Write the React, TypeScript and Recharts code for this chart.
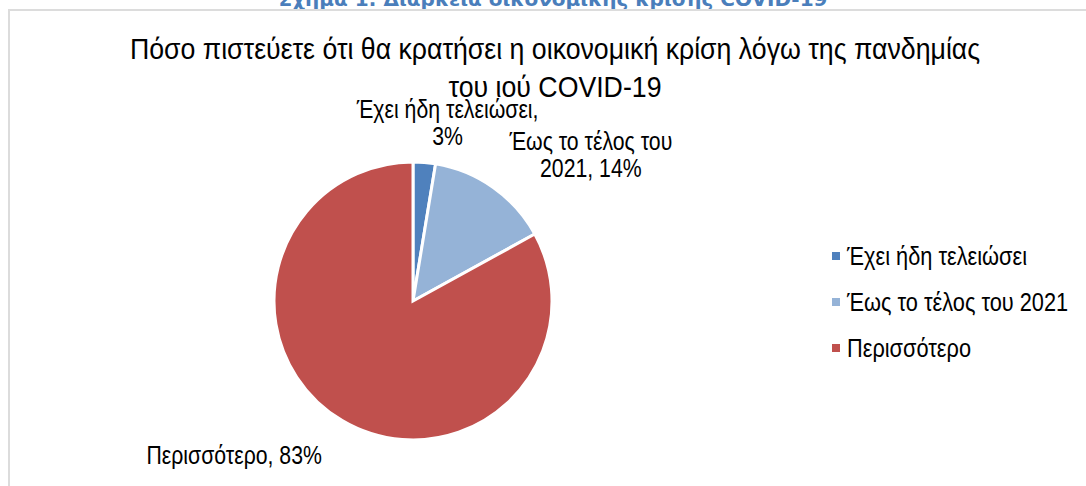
import { PieChart, Pie, Cell, Legend } from 'recharts';

const categories = ['Έχει ήδη τελειώσει', 'Έως το τέλος του 2021', 'Περισσότερο'];
const shares = [2.6, 14.4, 83.0];
const sliceColors = ['#4F81BD', '#95B3D7', '#C0504D'];
const labelLines = [
  ['Έχει ήδη τελειώσει,', '3%'],
  ['Έως το τέλος του', '2021, 14%'],
  ['Περισσότερο, 83%'],
];
const chartTitle = ['Πόσο πιστεύετε ότι θα κρατήσει η οικονομική κρίση λόγω της πανδημίας', 'του ιού COVID-19'];
const caption = 'Σχήμα 1: Διάρκεια οικονομικής κρίσης COVID-19';

const data = categories.map((name, i) => ({ name, value: shares[i] }));

// narrow look of the original (Arial Narrow) done by squeezing Liberation Sans
const FONT = "'Liberation Sans', Arial, sans-serif";
const LABEL_SIZE = 25;
const SQUEEZE = 0.85;

let ctx: CanvasRenderingContext2D | null = null;
const measure = (s: string) => {
  if (!ctx) ctx = document.createElement('canvas').getContext('2d');
  if (!ctx) return s.length * 13;
  ctx.font = `${LABEL_SIZE}px ${FONT}`;
  return ctx.measureText(s).width;
};

const RAD = Math.PI / 180;

const renderLabel = (props: any) => {
  const { cx, cy, midAngle, outerRadius, index } = props;
  const r = outerRadius + 40;
  const cos = Math.cos(-midAngle * RAD);
  const sin = Math.sin(-midAngle * RAD);
  const lines = labelLines[index];
  const widths = lines.map((l) => measure(l) * SQUEEZE);
  const w = Math.max(...widths);
  let x = cx + r * cos;
  const y = cy + r * sin;
  if (cos > 0.3) x += w / 2 - 7;
  else if (cos < -0.3) x -= w / 2;
  else x += 20;
  const lh = 27;
  return (
    <g>
      {lines.map((l, i) => (
        <text
          key={i}
          x={x}
          y={y + (i - (lines.length - 1) / 2) * lh}
          textAnchor="middle"
          dominantBaseline="central"
          fill="#000"
          fontSize={LABEL_SIZE}
          fontFamily={FONT}
          textLength={widths[i]}
          lengthAdjust="spacingAndGlyphs"
        >
          {l}
        </text>
      ))}
    </g>
  );
};

const renderLegend = () => (
  <div style={{ fontFamily: FONT, fontSize: LABEL_SIZE, color: '#000' }}>
    {categories.map((c, i) => (
      <div key={c} style={{ display: 'flex', alignItems: 'center', height: 46 }}>
        <span style={{ width: 8, height: 8, background: sliceColors[i], marginRight: 7, flexShrink: 0 }} />
        <span style={{ whiteSpace: 'nowrap', display: 'inline-block', transform: 'scaleX(0.87)', transformOrigin: 'left center' }}>
          {c}
        </span>
      </div>
    ))}
  </div>
);

export default function App() {
  return (
    <div style={{ position: 'absolute', left: 0, top: 0, width: 1086, height: 486, overflow: 'hidden', background: '#fff' }}>
      <div
        style={{
          position: 'absolute', left: 0, top: -11, width: 1106, textAlign: 'center',
          fontFamily: "'DejaVu Sans', Tahoma, sans-serif", fontWeight: 'bold', fontSize: 20, lineHeight: '20px', color: '#4A7EBB',
        }}
      >
        {caption}
      </div>
      <div style={{ position: 'absolute', left: 8, top: 9, width: 1200, height: 600, borderLeft: '2px solid #dcdcdc', borderTop: '2px solid #dcdcdc' }} />
      <div
        style={{
          position: 'absolute', left: 0, top: 30, width: 1110, textAlign: 'center',
          fontFamily: FONT, fontSize: 30, lineHeight: '38px', color: '#000',
          transform: 'scaleX(0.89)', transformOrigin: '555px 0',
        }}
      >
        {chartTitle.map((t) => (
          <div key={t}>{t}</div>
        ))}
      </div>
      <div style={{ position: 'absolute', left: 0, top: 0 }}>
        <PieChart width={1086} height={486} margin={{ top: 0, right: 0, bottom: 0, left: 0 }}>
          <Pie
            data={data}
            dataKey="value"
            nameKey="name"
            cx={413}
            cy={301}
            outerRadius={139}
            startAngle={90}
            endAngle={-270}
            stroke="#fff"
            strokeWidth={3}
            label={renderLabel}
            labelLine={false}
            isAnimationActive={false}
          >
            {data.map((d, i) => (
              <Cell key={d.name} fill={sliceColors[i]} />
            ))}
          </Pie>
          <Legend
            layout="vertical"
            verticalAlign="middle"
            align="right"
            wrapperStyle={{ left: 832, top: 233, width: 250 }}
            content={renderLegend}
          />
        </PieChart>
      </div>
    </div>
  );
}
